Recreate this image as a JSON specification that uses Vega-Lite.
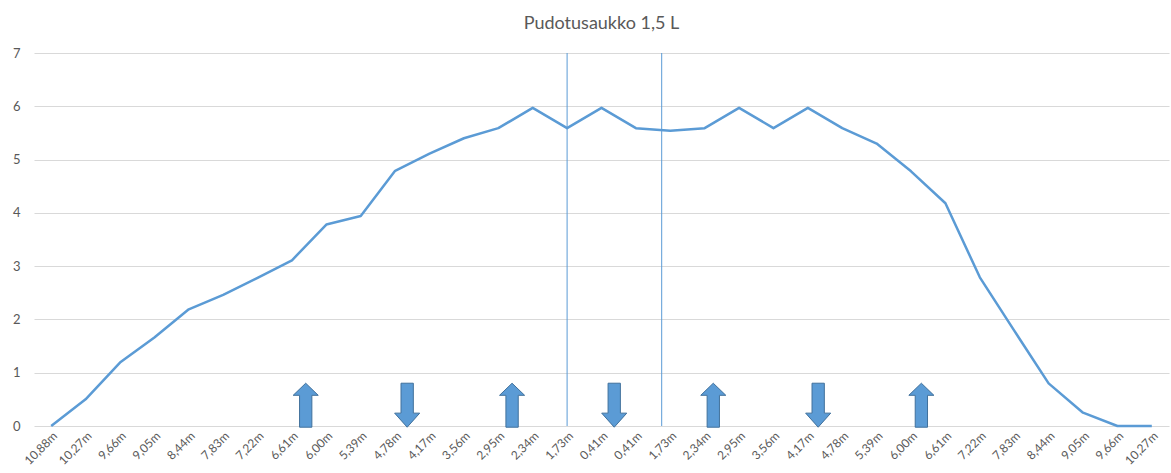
{
  "$schema": "https://vega.github.io/schema/vega-lite/v6.json",
  "width": 1135,
  "height": 373,
  "autosize": {"type": "none"},
  "padding": {"left": 34, "top": 53, "right": 2, "bottom": 47},
  "background": "white",
  "title": {
    "text": "Pudotusaukko 1,5 L",
    "font": "Lato",
    "fontSize": 18,
    "fontWeight": "normal",
    "color": "#595959",
    "anchor": "middle",
    "offset": 14
  },
  "config": {
    "view": {"stroke": null},
    "axis": {"labelFont": "Lato", "labelColor": "#595959"}
  },
  "datasets": {
    "curve": [
      {"idx": 0, "key": "V|10,88m", "value": 0},
      {"idx": 1, "key": "V|10,27m", "value": 0.5},
      {"idx": 2, "key": "V|9,66m", "value": 1.19},
      {"idx": 3, "key": "V|9,05m", "value": 1.66},
      {"idx": 4, "key": "V|8,44m", "value": 2.19},
      {"idx": 5, "key": "V|7,83m", "value": 2.46},
      {"idx": 6, "key": "V|7,22m", "value": 2.78},
      {"idx": 7, "key": "V|6,61m", "value": 3.11},
      {"idx": 8, "key": "V|6,00m", "value": 3.78},
      {"idx": 9, "key": "V|5,39m", "value": 3.94},
      {"idx": 10, "key": "V|4,78m", "value": 4.79},
      {"idx": 11, "key": "V|4,17m", "value": 5.11},
      {"idx": 12, "key": "V|3,56m", "value": 5.4},
      {"idx": 13, "key": "V|2,95m", "value": 5.59},
      {"idx": 14, "key": "V|2,34m", "value": 5.97},
      {"idx": 15, "key": "V|1,73m", "value": 5.59},
      {"idx": 16, "key": "V|0,41m", "value": 5.97},
      {"idx": 17, "key": "O|0,41m", "value": 5.59},
      {"idx": 18, "key": "O|1,73m", "value": 5.54},
      {"idx": 19, "key": "O|2,34m", "value": 5.59},
      {"idx": 20, "key": "O|2,95m", "value": 5.97},
      {"idx": 21, "key": "O|3,56m", "value": 5.59},
      {"idx": 22, "key": "O|4,17m", "value": 5.97},
      {"idx": 23, "key": "O|4,78m", "value": 5.59},
      {"idx": 24, "key": "O|5,39m", "value": 5.3},
      {"idx": 25, "key": "O|6,00m", "value": 4.78},
      {"idx": 26, "key": "O|6,61m", "value": 4.18},
      {"idx": 27, "key": "O|7,22m", "value": 2.79},
      {"idx": 28, "key": "O|7,83m", "value": 1.79},
      {"idx": 29, "key": "O|8,44m", "value": 0.8},
      {"idx": 30, "key": "O|9,05m", "value": 0.25},
      {"idx": 31, "key": "O|9,66m", "value": 0},
      {"idx": 32, "key": "O|10,27m", "value": 0}
    ],
    "arrows": [
      {"pos": 7.4, "dir": "up", "y": 0.39},
      {"pos": 10.35, "dir": "down", "y": 0.39},
      {"pos": 13.4, "dir": "up", "y": 0.39},
      {"pos": 16.37, "dir": "down", "y": 0.39},
      {"pos": 19.25, "dir": "up", "y": 0.39},
      {"pos": 22.3, "dir": "down", "y": 0.39},
      {"pos": 25.3, "dir": "up", "y": 0.39}
    ],
    "lines": [
      {"pos": 15},
      {"pos": 17.75}
    ]
  },
  "layer": [
    {
      "data": {"name": "curve"},
      "mark": {"type": "line", "color": "#5B9BD5", "strokeWidth": 2.5, "strokeJoin": "round"},
      "encoding": {
        "x": {
          "field": "key",
          "type": "ordinal",
          "sort": {"field": "idx", "op": "min"},
          "scale": {"type": "point", "padding": 0.5},
          "axis": {
            "title": null,
            "labelExpr": "split(datum.value, '|')[1]",
            "labelAngle": -45,
            "labelFontSize": 12,
            "labelPadding": 4,
            "ticks": false,
            "domain": false,
            "grid": false
          }
        },
        "y": {
          "field": "value",
          "type": "quantitative",
          "scale": {"domain": [0, 7], "nice": false, "zero": true},
          "axis": {
            "title": null,
            "values": [0, 1, 2, 3, 4, 5, 6, 7],
            "format": "d",
            "grid": true,
            "gridColor": "#D9D9D9",
            "gridWidth": 1,
            "domain": false,
            "ticks": false,
            "labelFontSize": 13,
            "labelPadding": 14
          }
        }
      }
    },
    {
      "layer": [
        {
          "data": {"name": "lines"},
          "mark": {"type": "rule", "color": "#5B9BD5", "strokeWidth": 1},
          "encoding": {
            "x": {
              "field": "pos",
              "type": "quantitative",
              "scale": {"domain": [-0.5, 32.5], "nice": false, "zero": false},
              "axis": null
            }
          }
        },
        {
          "data": {"name": "arrows"},
          "mark": {"type": "point", "filled": true, "fill": "#5B9BD5", "stroke": "#41719C", "strokeWidth": 1, "opacity": 1, "size": 1936},
          "encoding": {
            "x": {
              "field": "pos",
              "type": "quantitative",
              "scale": {"domain": [-0.5, 32.5], "nice": false, "zero": false},
              "axis": null
            },
            "y": {"field": "y", "type": "quantitative"},
            "shape": {
              "field": "dir",
              "type": "nominal",
              "scale": {
                "domain": ["up", "down"],
                "range": [
                  "M-0.28,1 L-0.28,-0.45 L-0.57,-0.45 L0,-1 L0.57,-0.45 L0.28,-0.45 L0.28,1 Z",
                  "M-0.28,-1 L0.28,-1 L0.28,0.36 L0.57,0.36 L0,1 L-0.57,0.36 L-0.28,0.36 Z"
                ]
              },
              "legend": null
            }
          }
        }
      ]
    }
  ],
  "resolve": {"scale": {"x": "independent"}}
}
